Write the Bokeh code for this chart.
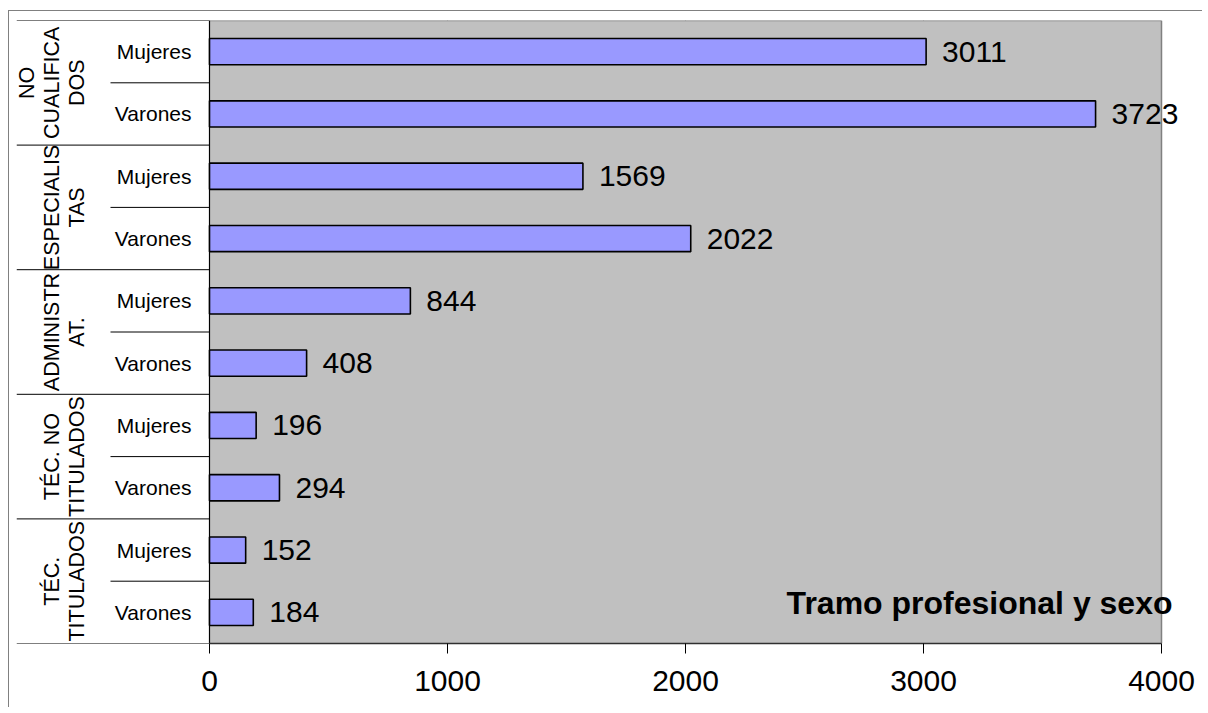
import math
from bokeh.plotting import figure
from bokeh.models import Range1d, FixedTicker, ColumnDataSource
from bokeh.core.properties import value
from bokeh.embed import file_html
from bokeh.resources import INLINE

# ---- data ----
groups = ["NO\nCUALIFICA\nDOS", "ESPECIALIS\nTAS", "ADMINISTR\nAT.",
          "TÉC. NO\nTITULADOS", "TÉC.\nTITULADOS"]
sexes = ["Mujeres", "Varones"]
mujeres = [3011, 1569, 844, 196, 152]
varones = [3723, 2022, 408, 294, 184]
x_ticks = [0, 1000, 2000, 3000, 4000]
title_text = "Tramo profesional y sexo"

# ---- layout constants (page pixels) ----
OX, OY = 9, 11                        # canvas origin on page (after css margin+border)
PAGE_R, PAGE_B = 1203, 708            # canvas right / bottom edge on page
W, H = PAGE_R - OX, PAGE_B - OY
FRAME_L, FRAME_R = 16, 1186           # frame (incl. category-label area)
FRAME_T, FRAME_B = 20, 643
PLOT_L, PLOT_R = 209, 1161            # value area 0..4000
GROUP_SEP_LEN = PLOT_L - FRAME_L
SUB_SEP_LEN = PLOT_L - 110
FONT = "Liberation Sans"

x_min, x_max = x_ticks[0], x_ticks[-1]
ppu = (PLOT_R - PLOT_L) / (x_max - x_min)
x_start = x_min - (PLOT_L - FRAME_L) / ppu
x_end = x_start + (FRAME_R - FRAME_L) / ppu

# ---- build rows (top to bottom) ----
rows_val, rows_sex, rows_pos = [], [], []
for g in range(len(groups)):
    for s, vals in enumerate([mujeres, varones]):
        rows_val.append(vals[g])
        rows_sex.append(sexes[s])
        rows_pos.append(g * 2 + s + 0.5)
n_rows = len(rows_val)

src = ColumnDataSource(dict(y=rows_pos, v=rows_val, sex=rows_sex,
                            lbl=[str(v) for v in rows_val],
                            zero=[x_min] * n_rows))
gsrc = ColumnDataSource(dict(y=[2 * g + 1 for g in range(len(groups))],
                             name=groups, zero=[x_min] * len(groups)))

p = figure(width=W, height=H, output_backend="svg", toolbar_location=None,
           x_range=Range1d(x_start, x_end), y_range=Range1d(n_rows, 0),
           min_border_left=FRAME_L - OX, min_border_top=FRAME_T - OY,
           min_border_right=W - (FRAME_R - OX), min_border_bottom=H - (FRAME_B - OY))
p.styles = {"margin-left": "8px", "margin-top": "10px",
            "border-style": "solid none none solid",
            "border-width": "1px 0px 0px 1px",
            "border-color": "#808080"}
p.background_fill_color = "white"
p.border_fill_color = "white"
p.outline_line_color = None
p.yaxis.visible = False
p.ygrid.grid_line_color = None

# gray plot area
p.quad(left=x_min, right=x_max, top=0, bottom=n_rows,
       fill_color="#C0C0C0", line_color=None)

# vertical grid lines
p.xgrid.ticker = FixedTicker(ticks=x_ticks[1:-1])
p.xgrid.grid_line_color = "#505050"
p.xgrid.grid_line_width = 1

# plot area outline (top, right) in gray
p.segment(x0=[x_min, x_max], y0=[0, 0], x1=[x_max, x_max], y1=[0, n_rows],
          line_color="#808080", line_width=1.5)

# category separators
g_sep = list(range(0, n_rows + 1, 2))
s_sep = list(range(1, n_rows, 2))
p.segment(x0=[x_min - GROUP_SEP_LEN / ppu] * len(g_sep), y0=g_sep,
          x1=[x_min] * len(g_sep), y1=g_sep, line_color="black", line_width=1)
p.segment(x0=[x_min - SUB_SEP_LEN / ppu] * len(s_sep), y0=s_sep,
          x1=[x_min] * len(s_sep), y1=s_sep, line_color="black", line_width=1)
# category axis line
p.segment(x0=[x_min], y0=[0], x1=[x_min], y1=[n_rows],
          line_color="black", line_width=1.2)

# bars
p.hbar(y="y", right="v", left=x_min, height=0.42, source=src,
       fill_color="#9999FF", line_color="black", line_width=1.6)

# x axis
xa = p.xaxis[0]
xa.bounds = (x_min, x_max)
xa.ticker = FixedTicker(ticks=x_ticks, minor_ticks=[])
xa.major_tick_in = 0
xa.major_tick_out = 10
xa.major_tick_line_color = "black"
xa.axis_line_color = "#303030"
xa.axis_line_width = 1.5
xa.major_label_text_font = FONT
xa.major_label_text_font_size = "30px"
xa.major_label_text_color = "black"
xa.major_label_standoff = 17

# value labels
p.text(x="v", y="y", text="lbl", source=src, x_offset=16,
       text_font=value(FONT), text_font_size="30px",
       text_baseline="middle", text_color="black")
# sub category labels
p.text(x="zero", y="y", text="sex", source=src, x_offset=-18,
       text_font=value(FONT), text_font_size="21px", text_align="right",
       text_baseline="middle", text_color="black")
# group labels (rotated)
p.text(x="zero", y="y", text="name", source=gsrc, x_offset=-120,
       angle=math.pi / 2, text_font=value(FONT), text_font_size="21.5px",
       text_align="center", text_baseline="bottom",
       text_line_height=1.05, text_color="black")
# caption inside plot
p.text(x=[x_max], y=[n_rows - 0.65], text=[title_text], x_offset=11,
       text_font=value(FONT), text_font_size="32px", text_font_style="bold",
       text_align="right", text_baseline="middle", text_color="black")

open("out.html", "w").write(file_html(p, INLINE))
